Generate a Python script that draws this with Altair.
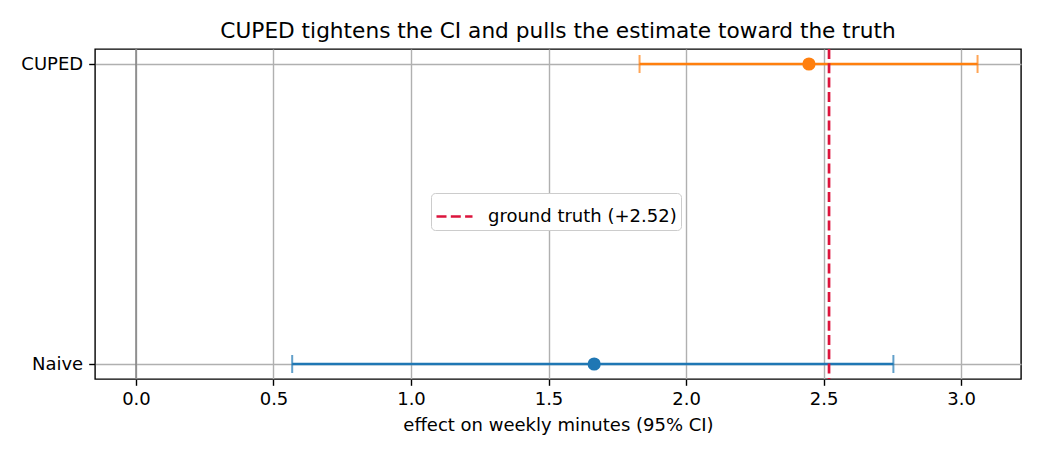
import altair as alt
import pandas as pd

methods = ["Naive", "CUPED"]
estimates = [1.666, 2.447]
ci_low = [0.568, 1.831]
ci_high = [2.754, 3.060]
method_colors = ["#1f77b4", "#ff7f0e"]
truth_value = 2.52
truth_label = "ground truth (+2.52)"
x_ticks = [0.0, 0.5, 1.0, 1.5, 2.0, 2.5, 3.0]

df = pd.DataFrame({"method": methods, "est": estimates, "lo": ci_low, "hi": ci_high})
truth_df = pd.DataFrame({"truth": [truth_value], "label": [truth_label]})
zero_df = pd.DataFrame({"z": [0.0]})

FONT = "DejaVu Sans"
xscale = alt.Scale(domain=[-0.149, 3.218], nice=False, zero=False)
yscale = alt.Scale(type="point", domain=["CUPED", "Naive"], padding=0.05)
cscale = alt.Scale(domain=methods, range=method_colors)

x_axis = alt.Axis(values=x_ticks, format=".1f", title="effect on weekly minutes (95% CI)")
y_axis = alt.Axis(title=None)

base = alt.Chart(df)

zero_line = alt.Chart(zero_df).mark_rule(color="#808080", strokeWidth=1.4).encode(
    x=alt.X("z:Q", scale=xscale, axis=x_axis)
)

bars = base.mark_rule(strokeWidth=2.7).encode(
    x=alt.X("lo:Q", scale=xscale, axis=x_axis),
    x2="hi:Q",
    y=alt.Y("method:N", scale=yscale, axis=y_axis),
    color=alt.Color("method:N", scale=cscale, legend=None),
)

caps_lo = base.mark_tick(orient="vertical", size=18, thickness=2).encode(
    x=alt.X("lo:Q", scale=xscale, axis=x_axis),
    y=alt.Y("method:N", scale=yscale, axis=y_axis),
    color=alt.Color("method:N", scale=cscale, legend=None),
)
caps_hi = base.mark_tick(orient="vertical", size=18, thickness=2).encode(
    x=alt.X("hi:Q", scale=xscale, axis=x_axis),
    y=alt.Y("method:N", scale=yscale, axis=y_axis),
    color=alt.Color("method:N", scale=cscale, legend=None),
)

points = base.mark_circle(size=175, opacity=1).encode(
    x=alt.X("est:Q", scale=xscale, axis=x_axis),
    y=alt.Y("method:N", scale=yscale, axis=y_axis),
    color=alt.Color("method:N", scale=cscale, legend=None),
)

truth_rule = alt.Chart(truth_df).mark_rule(strokeWidth=2.7, strokeDash=[10, 4.3]).encode(
    x=alt.X("truth:Q", scale=xscale, axis=x_axis),
    stroke=alt.Stroke(
        "label:N",
        title=None,
        scale=alt.Scale(domain=[truth_label], range=["#dc143c"]),
        legend=alt.Legend(
            orient="none",
            legendX=336,
            legendY=144,
            symbolType="stroke",
            symbolSize=1296,
            symbolStrokeWidth=2.7,
            symbolDash=[10, 4.3],
            labelOffset=14,
            labelLimit=400,
            padding=4,
            cornerRadius=4,
            strokeColor="#cccccc",
            fillColor="#ffffff",
            labelFontSize=18,
            labelFont=FONT,
            labelColor="#000000",
        ),
    ),
)

chart = (
    alt.layer(zero_line, bars, caps_lo, caps_hi, points, truth_rule)
    .resolve_scale(color="independent")
    .properties(
        width=926,
        height=330,
        autosize=alt.AutoSizeParams(type="none"),
        padding={"left": 95, "top": 49, "right": 19, "bottom": 76},
        title=alt.TitleParams(
            "CUPED tightens the CI and pulls the estimate toward the truth",
            fontSize=21.67,
            font=FONT,
            fontWeight="normal",
            color="#000000",
            anchor="middle",
            baseline="alphabetic",
            offset=-12,
        ),
    )
    .configure_view(stroke="#000000", strokeWidth=1.4)
    .configure_axis(
        labelFont=FONT,
        labelFontSize=18,
        labelColor="#000000",
        titleFont=FONT,
        titleFontSize=18,
        titleFontWeight="normal",
        titleColor="#000000",
        grid=True,
        gridColor="#b0b0b0",
        gridWidth=1.4,
        domain=False,
        tickColor="#000000",
        tickWidth=1.4,
        tickSize=6.3,
        labelPadding=5,
    )
    .configure_axisX(titlePadding=8, labelFlush=False)
    .configure_axisY(labelPadding=6)
)

chart.save("out.html", embed_options={"renderer": "svg", "actions": False})
